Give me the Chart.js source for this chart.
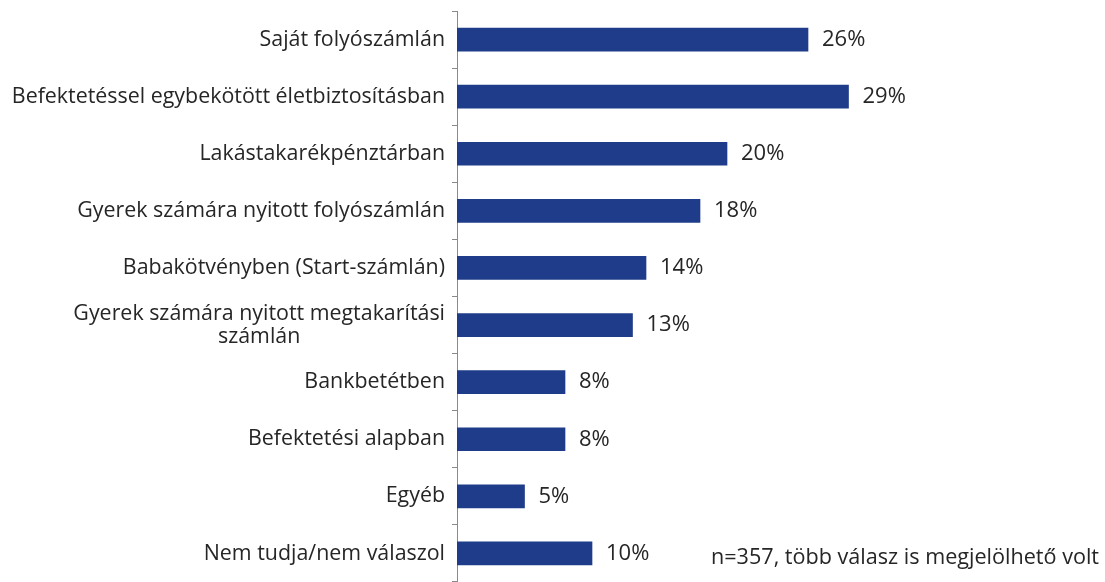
<!DOCTYPE html>
<html>
<head>
<meta charset="utf-8">
<script src="https://cdn.jsdelivr.net/npm/chart.js@4.4.1/dist/chart.umd.min.js"></script>
<style>
  html, body { margin: 0; padding: 0; background: #fff; }
  #wrap { position: relative; width: 1105px; height: 582px; }
  #note {
    position: absolute; left: 711px; top: 541px;
    font-family: "Open Sans", sans-serif; font-size: 21.6px; color: #262626;
    white-space: nowrap;
  }
</style>
</head>
<body>
<div id="wrap">
  <canvas id="barChart" width="1105" height="582"></canvas>
  <div id="note">n=357, több válasz is megjelölhető volt</div>
</div>
<script>
const categories = [
  ["Saját folyószámlán"],
  ["Befektetéssel egybekötött életbiztosításban"],
  ["Lakástakarékpénztárban"],
  ["Gyerek számára nyitott folyószámlán"],
  ["Babakötvényben (Start-számlán)"],
  ["Gyerek számára nyitott megtakarítási", "számlán"],
  ["Bankbetétben"],
  ["Befektetési alapban"],
  ["Egyéb"],
  ["Nem tudja/nem válaszol"]
];
const values = [26, 29, 20, 18, 14, 13, 8, 8, 5, 10];

const FONT = "'Open Sans', sans-serif";
const TEXT = "#262626";

// draws the category names and the % labels
const labelPlugin = {
  id: "labels",
  afterDatasetsDraw(chart) {
    const ctx = chart.ctx;
    const y = chart.scales.y;
    const meta = chart.getDatasetMeta(0);
    ctx.save();
    ctx.fillStyle = TEXT;
    ctx.font = "21.4px " + FONT;
    ctx.textBaseline = "middle";

    categories.forEach((lines, i) => {
      const cy = y.getPixelForValue(i);
      const right = chart.chartArea.left - 12;
      if (lines.length === 1) {
        ctx.textAlign = "right";
        ctx.fillText(lines[0], right, cy);
      } else {
        const w = Math.max(...lines.map(l => ctx.measureText(l).width));
        const mid = right - w / 2;
        ctx.textAlign = "center";
        lines.forEach((l, k) => {
          ctx.fillText(l, mid, cy + (k - (lines.length - 1) / 2) * 23);
        });
      }
    });

    ctx.textAlign = "left";
    ctx.font = "22px " + FONT;
    meta.data.forEach((bar, i) => {
      ctx.fillText(values[i] + "%", bar.x + 14, bar.y);
    });
    ctx.restore();
  }
};

new Chart(document.getElementById("barChart").getContext("2d"), {
  type: "bar",
  data: {
    labels: categories.map(c => c.join(" ")),
    datasets: [
      {
        data: values,
        backgroundColor: "#1F3C8A",
        barThickness: 23
      }
    ]
  },
  options: {
    indexAxis: "y",
    responsive: false,
    animation: false,
    layout: { padding: { top: 11, bottom: 0, right: 108, left: 0 } },
    plugins: {
      legend: { display: false },
      tooltip: { enabled: false }
    },
    scales: {
      x: {
        display: false,
        min: 0,
        max: 40
      },
      y: {
        afterFit: scale => { scale.width = 457; },
        ticks: { display: false },
        grid: {
          drawOnChartArea: false,
          drawTicks: true,
          tickLength: 5,
          color: "#8a8a8a"
        },
        border: { color: "#8a8a8a", width: 1 }
      }
    }
  },
  plugins: [labelPlugin]
});
</script>
</body>
</html>
